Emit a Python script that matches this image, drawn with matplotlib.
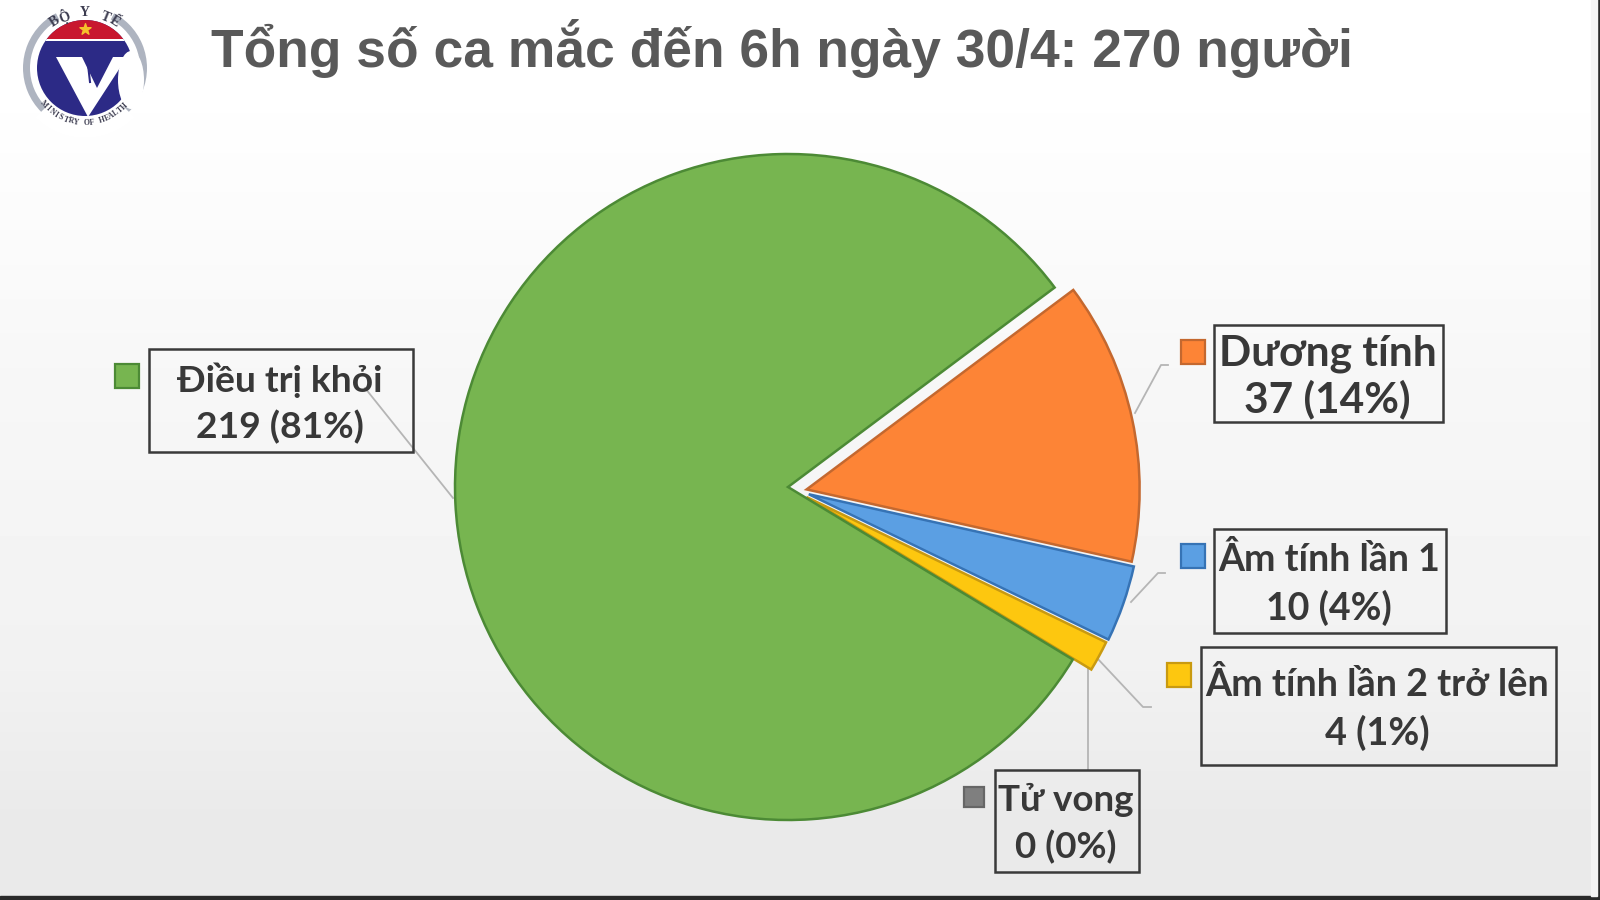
import matplotlib
matplotlib.use('Agg')
import matplotlib.pyplot as plt
import numpy as np
from matplotlib.patches import Circle, Ellipse, Polygon, Rectangle, Wedge

categories = ['Dương tính', 'Âm tính lần 1', 'Âm tính lần 2 trở lên', 'Tử vong', 'Điều trị khỏi']
values = [37, 10, 4, 0, 219]
percents = [14, 4, 1, 0, 81]
title = 'Tổng số ca mắc đến 6h ngày 30/4: 270 người'

fill_colors = ['#fd8436', '#5b9fe3', '#fdc70f', '#7f7f7f', '#77b550']
edge_colors = ['#c4682f', '#3673b5', '#c99a10', '#666666', '#4c8a35']
label_font = ['Lato', 'Noto Sans', 'DejaVu Sans']

W, H = 1600, 900


def Y(y):
    # picture coordinates run downwards, the axes upwards
    return H - y


fig = plt.figure(figsize=(16, 9), dpi=100)
ax = fig.add_axes([0, 0, 1, 1])

# background gradient
grad = np.array([1.0, 0.985, 0.968, 0.958, 0.945, 0.915]).reshape(-1, 1)
ax.imshow(grad, extent=(0, W, 0, H), cmap='gray', vmin=0, vmax=1, aspect='auto',
          interpolation='bilinear', zorder=0)
ax.add_patch(Rectangle((0, 0), W, 4, color='#2a2a2a', zorder=1))
ax.add_patch(Rectangle((W - 3, 0), 3, H, color='#2a2a2a', zorder=1))
ax.add_patch(Rectangle((W - 9, 4), 6, H, color='#f4f4f4', zorder=1))

# pie, explode is in pixels here because the radius is in pixels too
wedges, _ = ax.pie(values, explode=[17, 22, 21, 0, 0], startangle=36.8,
                   counterclock=False, center=(788, Y(487)), radius=333, frame=True,
                   colors=fill_colors,
                   wedgeprops=dict(linewidth=1.8, joinstyle='miter'))
for w, c in zip(wedges, edge_colors):
    w.set_edgecolor(c)
    w.set_zorder(3)
wedges[3].set_visible(False)
# orange slice sits a little lower in the reference than its explode direction gives
ox, oy = wedges[0].center
wedges[0].set_center((ox + 2, oy - 6))

# leader lines
leaders = [
    [(1135, 413), (1161, 365), (1168, 365)],
    [(1131, 602), (1158, 573), (1165, 573)],
    [(1097, 658), (1143, 707), (1151, 707)],
    [(1088, 665), (1088, 770)],
    [(365, 388), (453, 498)],
]
for pts in leaders:
    xs, ys = zip(*pts)
    ax.plot(xs, [Y(v) for v in ys], color='#b5b5b5', lw=1.3, zorder=2)

# label boxes: x0, x1, y0, y1 in picture pixels
boxes = [(1214, 1443, 325, 422), (1214, 1446, 529, 633), (1201, 1556, 647, 765),
         (995, 1139, 770, 872), (149, 413, 349, 452)]
swatches = [(1181, 340), (1181, 544), (1167, 663), (964, 787), (115, 364)]
sizes = [30.5, 27, 27.2, 26.5, 26.8]
spacing = [1.2, 1.42, 1.42, 1.45, 1.42]
for i, name in enumerate(categories):
    x0, x1, y0, y1 = boxes[i]
    ax.add_patch(Rectangle((x0, Y(y1)), x1 - x0, y1 - y0, facecolor='none',
                           edgecolor='#3a3a3a', lw=1.8, zorder=5))
    ax.text((x0 + x1) / 2 - 1, Y((y0 + y1) / 2 + 3), f'{name}\n{values[i]} ({percents[i]}%)',
            ha='center', va='center', fontsize=sizes[i], fontweight='bold',
            family=label_font, color='#383838', linespacing=spacing[i], zorder=6)
    sx, sy = swatches[i]
    side = 24 if i != 3 else 20
    ax.add_patch(Rectangle((sx, Y(sy + side)), side, side, facecolor=fill_colors[i],
                           edgecolor=edge_colors[i], lw=1.6, zorder=5))

# title
ax.text(211, Y(48), title, ha='left', va='center', fontsize=38.4, fontweight='bold',
        family=['Liberation Sans', 'DejaVu Sans'], color='#595959', zorder=6)

# logo
cx, cy = 85, Y(68)
ax.add_patch(Wedge((cx, cy), 62, 0, 360, width=7, facecolor='#aeb4c0', edgecolor='none', zorder=3))
ax.add_patch(Wedge((cx, cy), 70, 62, 118, width=22, facecolor='white', edgecolor='none', zorder=3.1))
ax.add_patch(Wedge((cx, cy), 70, 225, 315, width=22, facecolor='white', edgecolor='none', zorder=3.1))
navy = Circle((cx, cy), 48, facecolor='#2c2a86', edgecolor='none', zorder=3.2)
ax.add_patch(navy)
red = Rectangle((cx - 50, cy + 29), 100, 30, facecolor='#c8172f', edgecolor='none', zorder=3.3)
ax.add_patch(red)
red.set_clip_path(navy)
stripe = Rectangle((cx - 50, cy + 27), 100, 2, facecolor='white', edgecolor='none', zorder=3.3)
ax.add_patch(stripe)
stripe.set_clip_path(navy)
ax.scatter([cx], [cy + 39], marker='*', s=70, color='#f6c22b', zorder=3.4)
ax.add_patch(Polygon([(56, Y(57)), (88, Y(117)), (127, Y(57)), (113, Y(57)), (97, Y(88)), (82, Y(57))],
                     facecolor='white', edgecolor='none', zorder=3.5))
ax.plot([86, 90], [Y(47), Y(82)], color='#2c2a86', lw=1.5, zorder=3.6)
ax.add_patch(Ellipse((131, Y(80)), 26, 58, facecolor='white', edgecolor='none', zorder=3.7))


def arc_text(s, radius, start, step, size, flip=False):
    for k, ch in enumerate(s):
        a = np.radians(start + k * step)
        rot = np.degrees(a) + (90 if flip else -90)
        ax.text(cx + radius * np.cos(a), cy + radius * np.sin(a), ch, rotation=rot,
                ha='center', va='center', fontsize=size, fontweight='bold',
                family=['Liberation Serif', 'DejaVu Serif'], color='#3c3c50', zorder=4)


arc_text('BỘ Y TẾ', 55, 123, -11, 10)
arc_text('MINISTRY OF HEALTH', 55, 222, 5.5, 5.5, flip=True)

ax.set_xlim(0, W)
ax.set_ylim(0, H)
ax.set_aspect('auto')
ax.axis('off')
fig.savefig('out.png', dpi=100)
